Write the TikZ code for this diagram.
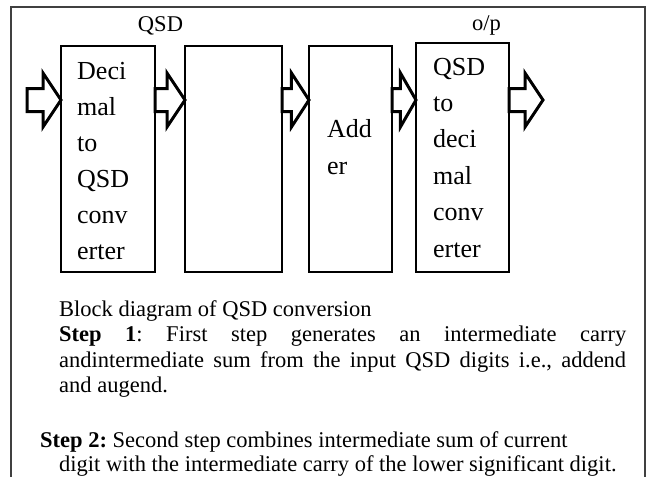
\documentclass[tikz,border=0pt]{standalone}
\usepackage{fontspec}
\setmainfont{Liberation Serif}
\usetikzlibrary{calc}
\frenchspacing
\newcommand\blockarrow[2]{%
  \draw[barrow] let \p1=(#1), \p2=(#2), \n1={min(18,0.65*(\x2-\x1))} in
    (\x1,\y1+11.5pt) -- ({\x2-\n1*1pt},\y1+11.5pt) -- ({\x2-\n1*1pt},\y1+27pt)
    -- (\x2,\y1) -- ({\x2-\n1*1pt},\y1-27pt) -- ({\x2-\n1*1pt},\y1-11.5pt)
    -- (\x1,\y1-11.5pt) -- cycle;}
\begin{document}
\begin{tikzpicture}[x=1pt,y=-1pt,
  blk/.style={draw=black, line width=1.1pt, fill=white, outer sep=0pt, inner sep=0pt, anchor=north west},
  btxt/.style={anchor=base west, inner sep=0pt, font=\fontsize{26}{36}\selectfont},
  lbl/.style={anchor=base, inner sep=0pt, font=\fontsize{22.5}{25}\selectfont},
  btext/.style={anchor=base west, inner sep=0pt, font=\fontsize{22.5}{25}\selectfont},
  barrow/.style={draw=black, line width=3pt, fill=white, line join=miter}]
\useasboundingbox (0,0) rectangle (649,477);
\fill[white] (0,0) rectangle (649,477);
% outer frame (open at the bottom)
\draw[line width=1.7pt, draw=black!75] (11,477) -- (11,7) -- (645,7) -- (645,477);
% labels
\node[lbl] (lq) at (160.5,31) {QSD};
\node[lbl] (lo) at (486.5,30) {o/p};
% blocks
\node[blk, minimum width=94pt, minimum height=226pt] (b1) at (61,46) {};
\node[blk, minimum width=97pt, minimum height=226pt] (b2) at (185,46) {};
\node[blk, minimum width=83pt, minimum height=226pt] (b3) at (309,46) {};
\node[blk, minimum width=93pt, minimum height=229pt] (b4) at (416,43) {};
% block texts
\foreach \w [count=\i from 0] in {Deci,mal,to,QSD,conv,erter}
  \node[btxt] (ta\i) at (77,79+36*\i) {\w};
\node[btxt] (tc0) at (327,137) {Add};
\node[btxt] (tc1) at (327,174) {er};
\foreach \w [count=\i from 0] in {QSD,to,deci,mal,conv,erter}
  \node[btxt] (td\i) at (433,75+36.4*\i) {\w};
% arrows
\coordinate (in) at (27,100);
\coordinate (out) at (543,100);
\blockarrow{in}{b1.west|-in}
\blockarrow{b1.east|-in}{b2.west|-in}
\blockarrow{b2.east|-in}{b3.west|-in}
\blockarrow{b3.east|-in}{b4.west|-in}
\blockarrow{b4.east|-in}{out}
% caption and steps
\node[btext] (cap) at (59,316) {Block diagram of QSD conversion};
\node[btext] (s1a) at (59,341) {\makebox[567pt][s]{\textbf{Step 1}: First step generates an intermediate carry}};
\node[btext] (s1b) at (59,367) {\makebox[567pt][s]{andintermediate sum from the input QSD digits i.e., addend}};
\node[btext] (s1c) at (59,392) {and augend.};
\node[btext] (s2a) at (40,447) {\textbf{Step 2:} Second step combines intermediate sum of current};
\node[btext] (s2b) at (59,471) {digit with the intermediate carry of the lower significant digit.};
\end{tikzpicture}
\end{document}
